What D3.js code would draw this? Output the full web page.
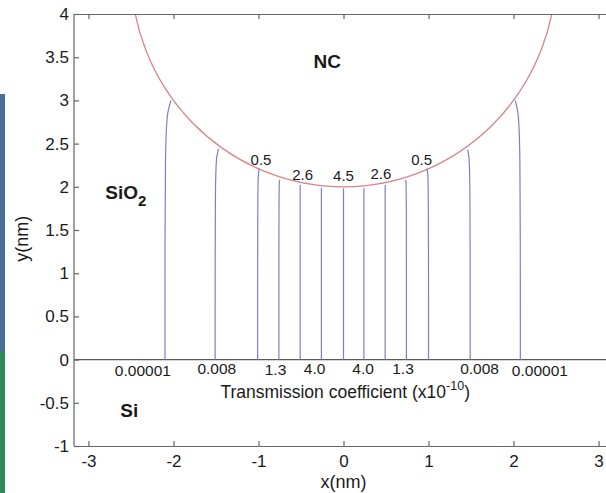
<!DOCTYPE html>
<html>
<head>
<meta charset="utf-8">
<script src="https://cdn.jsdelivr.net/npm/d3@7/dist/d3.min.js"></script>
<style>
    body { margin: 0; background: #fff; }
    svg { display: block; font-family: Arial, "Liberation Sans", sans-serif; }
</style>
</head>
<body>
<svg id="chart" width="606" height="493"></svg>
<script>
// Axis settings
const xTicks = [-3, -2, -1, 0, 1, 2, 3],
      yTicks = [-1, -0.5, 0, 0.5, 1, 1.5, 2, 2.5, 3, 3.5, 4];

// NC sphere (centre x, centre y, radius in nm)
const ncCenter = [0, 4.5],
      ncRadius = 2.5;

// Current flow lines: bottom x, x where they meet the NC, top y
const flowBottomX = [-2.10, -1.51, -1.01, -0.76, -0.51, -0.26, 0, 0.24, 0.49, 0.74, 1.0, 1.49, 2.08];
const flowTopX    = [-2.03, -1.47, -0.99, -0.75, -0.51, -0.26, 0, 0.24, 0.49, 0.73, 0.98, 1.46, 2.02];
const flowTopY    = [3.00, 2.44, 2.21, 2.08, 2.02, 1.98, 1.97, 1.98, 2.02, 2.08, 2.21, 2.43, 3.00];
const flowBendY   = [2.65, 2.18, 2.02, 1.93, 1.90, 1.88, 1.88, 1.88, 1.90, 1.93, 2.02, 2.17, 2.65];

// Transmission coefficient labels near the NC
const topLabels = ["0.5", "2.6", "4.5", "2.6", "0.5"],
      topLabelX = [-0.97, -0.48, 0, 0.44, 0.92],
      topLabelY = [2.32, 2.145, 2.13, 2.155, 2.32];

// Transmission coefficient labels at the Si interface
const bottomLabels = ["0.00001", "0.008", "1.3", "4.0", "4.0", "1.3", "0.008", "0.00001"],
      bottomLabelX = [-2.36, -1.49, -0.80, -0.34, 0.23, 0.70, 1.60, 2.31],
      bottomLabelY = [-0.13, -0.10, -0.11, -0.10, -0.10, -0.10, -0.10, -0.13];

// Layout
const width = 606, height = 493;
const plotLeft = 74, plotTop = 14, plotBottom = 446, plotRight = 613;
const axisColor = "#666", textColor = "#1a1a1a";

var svg = d3.select("#chart");

// Side strip from the neighbouring figure
svg.append("rect").attr("x", 0).attr("y", 94).attr("width", 5).attr("height", 258).attr("fill", "#4a6f96");
svg.append("rect").attr("x", 0).attr("y", 352).attr("width", 5).attr("height", 141).attr("fill", "#2e8a5a");

var x = d3.scaleLinear().domain([-3.17, 3.17]).range([plotLeft, plotRight]);
var y = d3.scaleLinear().domain([-1, 4]).range([plotBottom, plotTop]);

// Clip to the plot box
svg.append("clipPath").attr("id", "plotClip")
    .append("rect")
    .attr("x", plotLeft).attr("y", plotTop)
    .attr("width", plotRight - plotLeft).attr("height", plotBottom - plotTop);

var plot = svg.append("g").attr("clip-path", "url(#plotClip)");

// Si / SiO2 interface
plot.append("line")
    .attr("x1", plotLeft).attr("x2", plotRight)
    .attr("y1", y(0)).attr("y2", y(0))
    .attr("stroke", "#5a5a5a").attr("stroke-width", 1.2);

// NC circle
plot.append("ellipse")
    .attr("cx", x(ncCenter[0])).attr("cy", y(ncCenter[1]))
    .attr("rx", x(ncRadius) - x(0)).attr("ry", y(0) - y(ncRadius))
    .attr("fill", "none")
    .attr("stroke", "#d98585")
    .attr("stroke-width", 1.3);

// Flow lines
var flowLines = flowBottomX.map(function (bx, i) {
    return [[bx, 0], [bx, flowBendY[i]], [(bx + flowTopX[i]) / 2, (flowBendY[i] + flowTopY[i]) / 2 + 0.06], [flowTopX[i], flowTopY[i]]];
});

var line = d3.line()
    .x(function (d) { return x(d[0]); })
    .y(function (d) { return y(d[1]); })
    .curve(d3.curveBasis);

plot.selectAll("path.flow")
    .data(flowLines)
    .enter()
    .append("path")
    .attr("class", "flow")
    .attr("d", line)
    .attr("fill", "none")
    .attr("stroke", "#7b80c2")
    .attr("stroke-width", 1.2);

// Axes (MATLAB style, ticks inward)
var plainFormat = function (d) { return String(d); };

var xAxis = svg.append("g")
    .attr("transform", "translate(0," + plotBottom + ")")
    .call(d3.axisBottom(x).tickValues(xTicks).tickSize(-5).tickSizeOuter(0).tickPadding(9).tickFormat(plainFormat));

var xAxisTop = svg.append("g")
    .attr("transform", "translate(0," + plotTop + ")")
    .call(d3.axisTop(x).tickValues(xTicks).tickSize(-5).tickSizeOuter(0).tickFormat(""));

var yAxis = svg.append("g")
    .attr("transform", "translate(" + plotLeft + ",0)")
    .call(d3.axisLeft(y).tickValues(yTicks).tickSize(-5).tickSizeOuter(0).tickPadding(5).tickFormat(plainFormat));

[xAxis, xAxisTop, yAxis].forEach(function (g) {
    g.selectAll("path.domain").attr("stroke", axisColor).attr("stroke-width", 1.2);
    g.selectAll(".tick line").attr("stroke", axisColor).attr("stroke-width", 1.2);
    g.selectAll(".tick text")
        .attr("fill", textColor)
        .style("font-size", "17px")
        .style("font-family", "Arial, 'Liberation Sans', sans-serif");
});
// the y axis domain reaches the top of the box
yAxis.select("path.domain").attr("d", "M0," + plotBottom + "V" + plotTop);

// Transmission labels
svg.selectAll("text.tlTop")
    .data(topLabels)
    .enter()
    .append("text")
    .attr("class", "tlTop")
    .attr("x", function (d, i) { return x(topLabelX[i]); })
    .attr("y", function (d, i) { return y(topLabelY[i]); })
    .attr("dy", "0.36em")
    .attr("text-anchor", "middle")
    .attr("fill", textColor)
    .style("font-size", "15px")
    .text(function (d) { return d; });

svg.selectAll("text.tlBottom")
    .data(bottomLabels)
    .enter()
    .append("text")
    .attr("class", "tlBottom")
    .attr("x", function (d, i) { return x(bottomLabelX[i]); })
    .attr("y", function (d, i) { return y(bottomLabelY[i]); })
    .attr("dy", "0.36em")
    .attr("text-anchor", "middle")
    .attr("fill", textColor)
    .style("font-size", "15.5px")
    .text(function (d) { return d; });

// Transmission coefficient caption
var caption = svg.append("text")
    .attr("x", x(0.02))
    .attr("y", y(-0.44))
    .attr("text-anchor", "middle")
    .attr("fill", textColor)
    .style("font-size", "17.5px");
caption.append("tspan").text("Transmission coefficient (x10");
caption.append("tspan").attr("dy", -8).style("font-size", "12.5px").text("-10");
caption.append("tspan").attr("dy", 8).text(")");

// Region labels
svg.append("text")
    .attr("x", x(-0.19)).attr("y", y(3.37))
    .attr("text-anchor", "middle")
    .attr("fill", textColor)
    .style("font-size", "19px").style("font-weight", "bold")
    .text("NC");

var sio2 = svg.append("text")
    .attr("x", x(-2.56)).attr("y", y(1.86))
    .attr("text-anchor", "middle")
    .attr("fill", textColor)
    .style("font-size", "19px").style("font-weight", "bold");
sio2.append("tspan").text("SiO");
sio2.append("tspan").attr("dy", 7).style("font-size", "15px").text("2");

svg.append("text")
    .attr("x", x(-2.52)).attr("y", y(-0.67))
    .attr("text-anchor", "middle")
    .attr("fill", textColor)
    .style("font-size", "19px").style("font-weight", "bold")
    .text("Si");

// Axis titles
svg.append("text")
    .attr("x", x(0)).attr("y", 488)
    .attr("text-anchor", "middle")
    .attr("fill", textColor)
    .style("font-size", "18px")
    .text("x(nm)");

svg.append("text")
    .attr("transform", "translate(28," + y(1.4) + ") rotate(-90)")
    .attr("text-anchor", "middle")
    .attr("fill", textColor)
    .style("font-size", "18px")
    .text("y(nm)");
</script>
</body>
</html>
